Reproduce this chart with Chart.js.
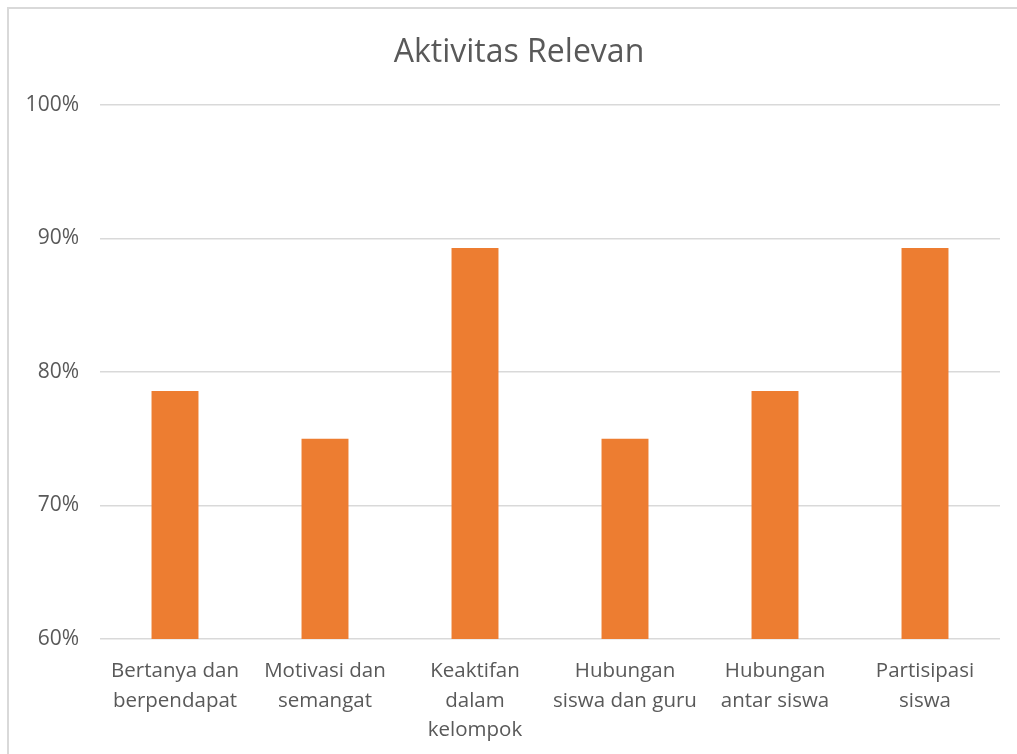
<!DOCTYPE html>
<html>
<head>
<meta charset="utf-8">
<script src="https://cdn.jsdelivr.net/npm/chart.js@4"></script>
<style>
  html, body { margin: 0; padding: 0; background: #fff; overflow: hidden; }
  #frame { position: absolute; left: 7px; top: 7px; width: 1100px; height: 800px;
           border-top: 2px solid #d9d9d9; border-left: 2px solid #d9d9d9; box-sizing: border-box; }
  #c { position: absolute; left: 0; top: 0; }
</style>
</head>
<body>
<div id="frame"></div>
<canvas id="c" width="1017" height="754"></canvas>
<script>
// Activity categories (multi-line axis labels)
const categories = [
  ["Bertanya dan", "berpendapat"],
  ["Motivasi dan", "semangat"],
  ["Keaktifan", "dalam", "kelompok"],
  ["Hubungan", "siswa dan guru"],
  ["Hubungan", "antar siswa"],
  ["Partisipasi", "siswa"]
];
// Share of students per activity (fraction)
const values = [0.7857, 0.75, 0.8929, 0.75, 0.7857, 0.8929];
// Value axis range and step
const yMin = 0.6;
const yMax = 1.0;
const yStep = 0.1;

const chartTitle = 'Aktivitas Relevan';

const textColor = '#595959';
const gridColor = '#d9d9d9';
const fontFamily = "'Open Sans', 'Noto Sans', sans-serif";

// Title centred over the whole chart frame (which runs past the right edge)
const frameTitle = {
  id: 'frameTitle',
  afterDraw(chart) {
    const ctx = chart.ctx;
    ctx.save();
    ctx.fillStyle = textColor;
    ctx.font = "32px " + fontFamily;
    ctx.textAlign = 'center';
    ctx.textBaseline = 'alphabetic';
    ctx.fillText(chartTitle, 519, 62);
    ctx.restore();
  }
};

new Chart(document.getElementById('c'), {
  type: 'bar',
  data: {
    labels: categories,
    datasets: [{
      data: values,
      backgroundColor: '#ed7d31',
      borderWidth: 0,
      categoryPercentage: 1,
      barPercentage: 0.313
    }]
  },
  plugins: [frameTitle],
  options: {
    responsive: false,
    animation: false,
    devicePixelRatio: 1,
    layout: { padding: { top: 105, right: 17, bottom: 0, left: 0 } },
    plugins: {
      legend: { display: false },
      tooltip: { enabled: false },
      title: { display: false }
    },
    scales: {
      y: {
        min: yMin,
        max: yMax,
        ticks: {
          stepSize: yStep,
          color: textColor,
          font: { family: fontFamily, size: 21 },
          padding: 21,
          callback: v => Math.round(v * 100) + '%'
        },
        grid: { color: gridColor, lineWidth: 1.5, drawTicks: false },
        border: { display: false },
        afterFit: s => { s.width = 100; }
      },
      x: {
        ticks: {
          color: textColor,
          font: { family: fontFamily, size: 20.5, lineHeight: 1.42 },
          padding: 18,
          maxRotation: 0,
          autoSkip: false
        },
        grid: { display: false, drawTicks: false },
        border: { display: false },
        afterFit: s => { s.height = 115; }
      }
    }
  }
});
</script>
</body>
</html>
